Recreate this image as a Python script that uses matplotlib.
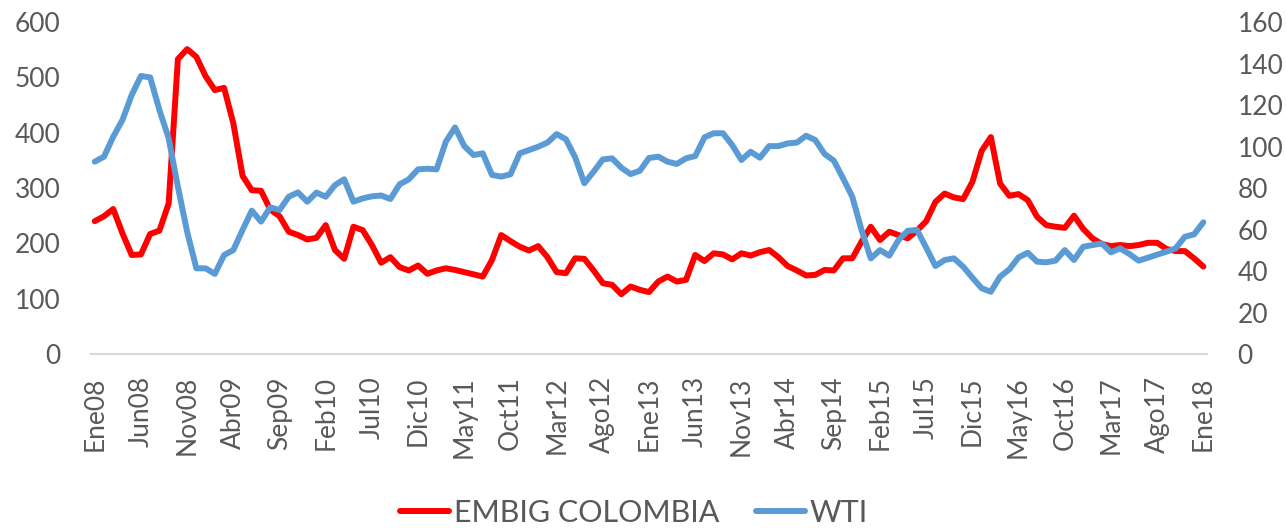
import matplotlib
matplotlib.use("Agg")
import matplotlib.pyplot as plt
import numpy as np

# monthly data, Ene08 .. Ene18 (121 months)
embig = [240, 249, 262, 218, 179, 180, 217, 223, 272, 533,
         551, 537, 502, 477, 481, 417, 322, 296, 295, 261,
         249, 221, 215, 207, 210, 233, 188, 172, 230, 224,
         197, 165, 175, 157, 151, 160, 145, 151, 155, 152,
         148, 144, 140, 170, 215, 204, 194, 187, 195, 175,
         148, 146, 173, 172, 151, 128, 125, 108, 122, 116,
         112, 131, 140, 131, 134, 179, 168, 182, 180, 171,
         182, 178, 184, 188, 175, 159, 151, 142, 143, 152,
         151, 173, 173, 203, 230, 206, 221, 215, 209, 223,
         240, 275, 290, 283, 280, 311, 367, 392, 308, 286,
         289, 278, 248, 233, 230, 228, 250, 226, 209, 199,
         195, 197, 195, 197, 201, 201, 190, 186, 186, 173,
         158]

wti = [92.7, 95.1, 104.7, 112.8, 124.8, 134.0, 133.3, 117.6, 104.0, 80.6,
       58.9, 41.3, 41.3, 38.6, 47.7, 50.1, 59.8, 69.1, 63.8, 70.7,
       69.4, 75.8, 77.9, 73.4, 77.8, 75.8, 81.4, 84.2, 73.4, 75.0,
       76.0, 76.4, 74.7, 81.8, 84.2, 89.0, 89.3, 89.0, 102.3, 109.2,
       100.2, 95.9, 96.7, 86.3, 85.5, 86.6, 96.7, 98.3, 99.9, 101.9,
       106.0, 103.5, 94.8, 82.3, 87.9, 93.8, 94.3, 89.8, 86.7, 88.3,
       94.5, 95.1, 92.7, 91.6, 94.3, 95.4, 104.4, 106.4, 106.4, 100.7,
       93.5, 97.5, 94.6, 100.2, 100.2, 101.5, 101.9, 105.2, 103.1, 96.4,
       93.2, 84.7, 75.8, 59.8, 46.1, 50.1, 47.4, 54.9, 59.4, 59.8,
       51.3, 42.4, 45.3, 46.1, 42.1, 36.8, 31.7, 30.0, 37.3, 40.8,
       46.6, 48.8, 44.5, 44.2, 45.0, 50.1, 45.3, 51.7, 52.5, 53.3,
       49.0, 50.9, 48.2, 45.0, 46.4, 47.9, 49.3, 50.9, 56.5, 57.7,
       63.5]

tick_labels = ["Ene08", "Jun08", "Nov08", "Abr09", "Sep09", "Feb10", "Jul10",
               "Dic10", "May11", "Oct11", "Mar12", "Ago12", "Ene13", "Jun13",
               "Nov13", "Abr14", "Sep14", "Feb15", "Jul15", "Dic15", "May16",
               "Oct16", "Mar17", "Ago17", "Ene18"]

TXT = "#595959"
plt.rcParams['font.family'] = ['Lato', 'DejaVu Sans']

fig = plt.figure(figsize=(12.86, 5.28), dpi=100)
ax1 = fig.add_axes([0.0708, 0.3295, 0.8678, 0.6288])
ax2 = ax1.twinx()

x = np.arange(len(embig))
l1, = ax1.plot(x, embig, color="#FF0000", lw=4.3, solid_capstyle="round",
               solid_joinstyle="round", label="EMBIG COLOMBIA")
l2, = ax2.plot(x, wti, color="#5B9BD5", lw=4.3, solid_capstyle="round",
               solid_joinstyle="round", label="WTI")

ax1.set_xlim(-0.4, 120.4)
ax1.set_ylim(0, 600)
ax2.set_ylim(0, 160)
ax1.set_yticks(np.arange(0, 601, 100))
ax2.set_yticks(np.arange(0, 161, 20))
ax1.set_xticks(np.arange(0, 121, 5))
ax1.set_xticklabels(tick_labels, rotation=90)

for ax in (ax1, ax2):
    for s in ax.spines.values():
        s.set_visible(False)
    ax.tick_params(length=0, labelsize=19, colors=TXT)
ax1.spines['bottom'].set_visible(True)
ax1.spines['bottom'].set_color("#D9D9D9")
ax1.spines['bottom'].set_linewidth(1.5)
ax1.tick_params(axis='y', pad=22)
ax2.tick_params(axis='y', pad=22)
ax1.tick_params(axis='x', pad=16)

leg = fig.legend(handles=[l1, l2], loc="lower center", ncol=2, frameon=False,
                 fontsize=22, bbox_to_anchor=(0.493, -0.05), handlelength=1.6,
                 handletextpad=0.15, columnspacing=1.2)
for t in leg.get_texts():
    t.set_color(TXT)

fig.savefig("out.png", dpi=100)
